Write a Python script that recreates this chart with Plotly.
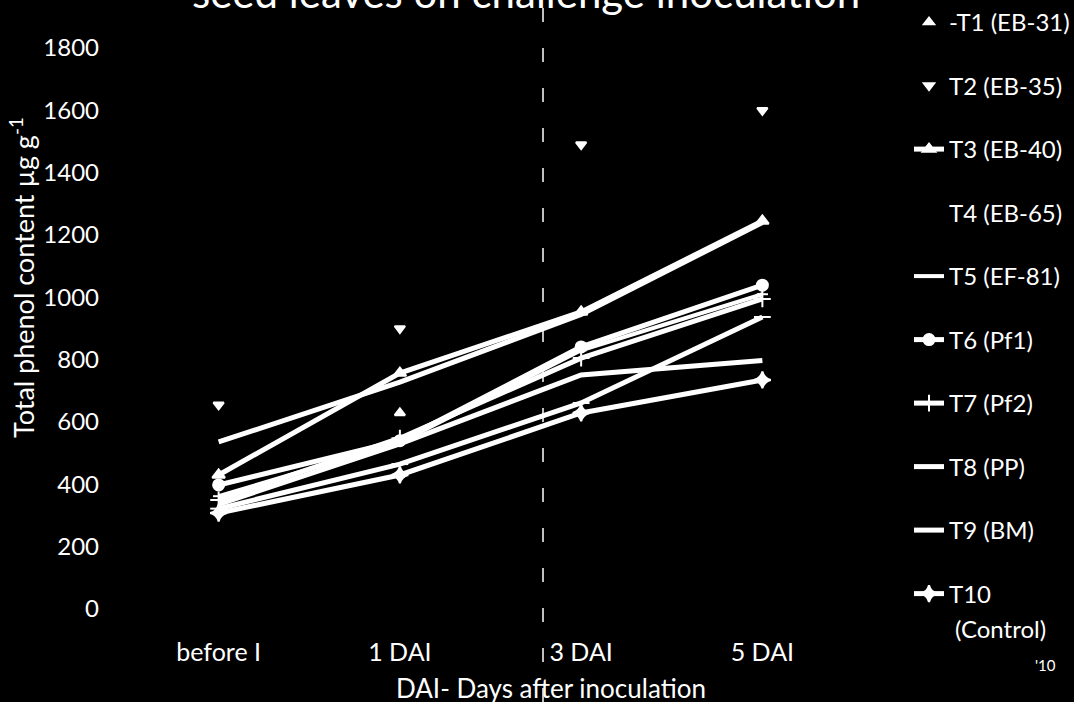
import plotly.graph_objects as go

categories = ["before I", "1 DAI", "3 DAI", "5 DAI"]

t1_eb31 = [None, 629, None, None]
t2_eb35 = [655, 900, 1490, 1600]
t3_eb40 = [430, 757, 953, 1245]
t4_eb65 = [536, 728, 945, 1240]
t5_ef81 = [362, 535, 830, 1010]
t6_pf1 = [398, 540, 841, 1039]
t7_pf2 = [350, 548, 805, 995]
t8_pp = [322, 465, 661, 937]
t9_bm = [336, 530, 751, 797]
t10_control = [308, 430, 629, 735]

y_ticks = [0, 200, 400, 600, 800, 1000, 1200, 1400, 1600, 1800]

FONT = "Lato"
W = "white"
L, R, T, B = 128, 221, 48, 93
PW, PH = 1074 - L - R, 702 - T - B

def px_x(p):
    return (p - L) / PW

def px_y(p):
    return (702 - B - p) / PH

fig = go.Figure()

def add(name, y, mode, symbol=None, msize=10, lw=5, color=W, showlegend=True, group=None):
    fig.add_trace(go.Scatter(
        x=categories, y=y, name=name, mode=mode,
        line=dict(color=color, width=lw),
        marker=dict(symbol=symbol or "circle", size=msize, color=color,
                    line=dict(color=color, width=2)),
        showlegend=showlegend, legendgroup=group or name,
    ))

add("-T1 (EB-31)", t1_eb31, "markers", "triangle-up", 9)
add("T2 (EB-35)", t2_eb35, "markers", "triangle-down", 9)
add("T3 (EB-40)", t3_eb40, "lines+markers", "triangle-up", 11)
# T4 line drawn; its legend entry shows no visible symbol
add("T4 (EB-65)", t4_eb65, "lines", showlegend=False, group="t4data")
fig.add_trace(go.Scatter(x=[None], y=[None], name="T4 (EB-65)", mode="lines",
                         line=dict(color="black", width=4), legendgroup="T4"))
add("T5 (EF-81)", t5_ef81, "lines+markers", "line-ew", 8, 4)
add("T6 (Pf1)", t6_pf1, "lines+markers", "circle", 11)
add("T7 (Pf2)", t7_pf2, "lines+markers", "cross-thin", 12)
add("T8 (PP)", t8_pp, "lines+markers", "line-ew", 12)
add("T9 (BM)", t9_bm, "lines", None)
add("T10", t10_control, "lines+markers", "star-diamond", 12)

fig.update_layout(
    width=1074, height=702,
    paper_bgcolor="black", plot_bgcolor="black",
    margin=dict(l=L, r=R, t=T, b=B),
    font=dict(family=FONT, color=W, size=25),
    showlegend=True,
    legend=dict(
        xref="container", yref="container",
        x=909 / 1074, y=1 + 8 / 702, xanchor="left", yanchor="top",
        font=dict(size=24, color=W, family=FONT),
        tracegroupgap=29.3, itemwidth=30, maxheight=720,
        bgcolor="rgba(0,0,0,0)",
    ),
    xaxis=dict(
        type="category", range=[-0.5, 3.5],
        showgrid=False, zeroline=False, showline=False, ticks="",
        tickfont=dict(size=25, color=W, family=FONT),
        ticklabelstandoff=26,
    ),
    yaxis=dict(
        range=[0, 1800], tickvals=y_ticks,
        showgrid=False, zeroline=False, showline=False, ticks="",
        tickfont=dict(size=24, color=W, family=FONT),
        ticklabelstandoff=28,
    ),
)

# chart title (only its lower part is inside the picture)
fig.add_annotation(
    text="seed leaves on challenge inoculation",
    xref="paper", yref="paper", x=px_x(862), y=px_y(19),
    xanchor="right", yanchor="bottom", showarrow=False,
    font=dict(size=42, color=W, family=FONT),
)
# axis titles
fig.add_annotation(
    text="DAI- Days after inoculation",
    xref="paper", yref="paper", x=px_x(551), y=px_y(688),
    xanchor="center", yanchor="middle", showarrow=False,
    font=dict(size=26, color=W, family=FONT),
)
fig.add_annotation(
    text="Total phenol content µg g<sup>-1</sup>",
    xref="paper", yref="paper", x=px_x(22), y=px_y(278),
    xanchor="center", yanchor="middle", showarrow=False, textangle=-90,
    font=dict(size=27, color=W, family=FONT),
)
fig.add_annotation(
    text="(Control)",
    xref="paper", yref="paper", x=px_x(953), y=px_y(628),
    xanchor="left", yanchor="middle", showarrow=False,
    font=dict(size=24, color=W, family=FONT),
)
fig.add_annotation(
    text="'10", xref="paper", yref="paper",
    x=px_x(1045), y=px_y(665),
    xanchor="center", yanchor="middle", showarrow=False,
    font=dict(size=15, color=W, family=FONT),
)
fig.add_shape(type="line", xref="paper", yref="paper",
              x0=px_x(543), x1=px_x(543), y0=px_y(702), y1=px_y(0),
              line=dict(color=W, width=1.5, dash="14px,26px"))

fig.write_html("out.html")
